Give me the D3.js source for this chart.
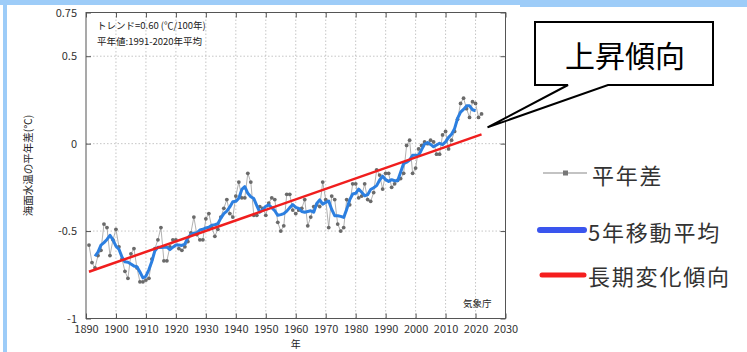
<!DOCTYPE html>
<html lang="ja">
<head>
<meta charset="utf-8">
<script src="https://cdn.jsdelivr.net/npm/d3@7"></script>
<style>
  html, body { margin: 0; padding: 0; background: #fff; }
  svg { display: block; font-family: "Noto Sans CJK JP", "Noto Sans", sans-serif; }
</style>
</head>
<body>
<svg id="chart" width="747" height="352"></svg>
<script>
// 海面水温（全球平均）の平年差 1891–2022（℃、平年値 1991–2020 年平均）
const years = d3.range(1891, 2023);
const anomalies = [
  -0.58, -0.68, -0.71, -0.64, -0.61, -0.46, -0.48, -0.64, -0.55, -0.49, // 1891-1900
  -0.59, -0.66, -0.73, -0.77, -0.63, -0.60, -0.71, -0.79, -0.79, -0.78, // 1901-1910
  -0.77, -0.66, -0.60, -0.55, -0.48, -0.67, -0.67, -0.59, -0.55, -0.55, // 1911-1920
  -0.60, -0.61, -0.59, -0.56, -0.51, -0.42, -0.52, -0.55, -0.55, -0.43, // 1921-1930
  -0.40, -0.48, -0.53, -0.49, -0.42, -0.37, -0.32, -0.40, -0.42, -0.30, // 1931-1940
  -0.22, -0.31, -0.31, -0.17, -0.22, -0.41, -0.41, -0.36, -0.37, -0.41, // 1941-1950
  -0.34, -0.31, -0.32, -0.45, -0.50, -0.47, -0.29, -0.29, -0.38, -0.40, // 1951-1960
  -0.38, -0.37, -0.32, -0.47, -0.42, -0.36, -0.35, -0.36, -0.22, -0.32, // 1961-1970
  -0.48, -0.30, -0.32, -0.46, -0.50, -0.48, -0.32, -0.35, -0.23, -0.23, // 1971-1980
  -0.31, -0.30, -0.23, -0.32, -0.33, -0.28, -0.15, -0.18, -0.26, -0.17, // 1981-1990
  -0.17, -0.25, -0.23, -0.21, -0.20, -0.17, -0.01,  0.02, -0.17, -0.14, // 1991-2000
  -0.03, -0.01,  0.01,  0.00,  0.02,  0.01, -0.06, -0.06,  0.05,  0.07, // 2001-2010
  -0.03,  0.02,  0.07,  0.14,  0.23,  0.26,  0.20,  0.15,  0.24,  0.23, // 2011-2020
   0.15,  0.17                                                          // 2021-2022
];
const trendPer100 = 0.60;           // ℃/100年
const xTicks = d3.range(1890, 2031, 10);
const yTicks = [-1, -0.5, 0, 0.5, 0.75];
const yTickLabels = ["-1", "-0.5", "0", "0.5", "0.75"];
const yGrid = [-0.5, 0, 0.5];
const legendLabels = ["平年差", "5年移動平均", "長期変化傾向"];

const svg = d3.select("#chart");
const L = 86, R = 505.5, T = 12.5, B = 318.5;
const x = d3.scaleLinear().domain([1890, 2030]).range([L, R]);
const y = d3.scaleLinear().domain([-1, 0.75]).range([B, T]);

// page frame
svg.append("rect").attr("x", 0).attr("y", 0).attr("width", 747).attr("height", 5).attr("fill", "#9dccf8");
svg.append("rect").attr("x", 520).attr("y", 0).attr("width", 227).attr("height", 7).attr("fill", "#9dccf8");
svg.append("rect").attr("x", 3).attr("y", 0).attr("width", 4).attr("height", 352).attr("fill", "#9dccf8");

// grid
const grid = svg.append("g").attr("stroke", "#b8b8b8").attr("stroke-width", 0.8).attr("stroke-dasharray", "1.5,2");
grid.selectAll("line.v").data(xTicks.filter(d => d > 1890 && d < 2030)).join("line")
  .attr("x1", d => x(d)).attr("x2", d => x(d)).attr("y1", T).attr("y2", B);
grid.selectAll("line.h").data(yGrid).join("line")
  .attr("x1", L).attr("x2", R).attr("y1", d => y(d)).attr("y2", d => y(d));

// axes
const tickFont = g => g.selectAll("text").attr("font-size", 11).attr("fill", "#333")
  .attr("font-family", "'Noto Sans CJK JP', sans-serif");
svg.append("g").attr("transform", `translate(0,${B})`)
  .call(d3.axisBottom(x).tickValues(xTicks).tickFormat(d3.format("d")).tickSize(-5).tickPadding(7))
  .call(tickFont)
  .call(g => g.select(".domain").remove());
svg.append("g").attr("transform", `translate(0,${T})`)
  .call(d3.axisTop(x).tickValues(xTicks).tickFormat("").tickSize(-5))
  .call(g => g.select(".domain").remove());
svg.append("g").attr("transform", `translate(${L},0)`)
  .call(d3.axisLeft(y).tickValues(yTicks).tickFormat((d, i) => yTickLabels[i]).tickSize(-5).tickPadding(9))
  .call(tickFont)
  .call(g => g.select(".domain").remove());
svg.append("g").attr("transform", `translate(${R},0)`)
  .call(d3.axisRight(y).tickValues(yTicks).tickFormat("").tickSize(-5))
  .call(g => g.select(".domain").remove());
svg.selectAll(".tick line").attr("stroke", "#555");
svg.append("rect").attr("x", L).attr("y", T).attr("width", R - L).attr("height", B - T)
  .attr("fill", "none").attr("stroke", "#555").attr("stroke-width", 1);

// series
const pts = years.map((yr, i) => ({ yr, v: anomalies[i] }));
const ma = pts.slice(2, -2).map((p, i) => ({ yr: p.yr, v: d3.mean(anomalies.slice(i, i + 5)) }));
const mYr = d3.mean(years), mV = d3.mean(anomalies), slope = trendPer100 / 100;
const trend = [years[0], years[years.length - 1]].map(yr => ({ yr, v: mV + slope * (yr - mYr) }));

const line = d3.line().x(d => x(d.yr)).y(d => y(d.v));
svg.append("path").datum(pts).attr("d", line).attr("fill", "none").attr("stroke", "#8f8f8f").attr("stroke-width", 0.7);
svg.append("g").selectAll("circle").data(pts).join("circle")
  .attr("cx", d => x(d.yr)).attr("cy", d => y(d.v)).attr("r", 1.9).attr("fill", "#6a6a6a");
svg.append("path").datum(ma).attr("d", line).attr("fill", "none").attr("stroke", "#2c7fe0")
  .attr("stroke-width", 3).attr("stroke-linejoin", "round");
svg.append("path").datum(trend).attr("d", line).attr("fill", "none").attr("stroke", "#f01e1e").attr("stroke-width", 2.5);

// in-plot notes
svg.append("text").attr("x", 97).attr("y", 29).attr("font-size", 9.5).attr("fill", "#222")
  .text(`トレンド=${trendPer100.toFixed(2)} (℃/100年)`);
svg.append("text").attr("x", 97).attr("y", 45).attr("font-size", 9.5).attr("fill", "#222")
  .text("平年値:1991-2020年平均");
svg.append("text").attr("x", 463).attr("y", 307).attr("font-size", 9.5).attr("fill", "#222").text("気象庁");

// axis titles
svg.append("text").attr("transform", `translate(32,${(T + B) / 2}) rotate(-90)`)
  .attr("text-anchor", "middle").attr("font-size", 10.5).attr("fill", "#222").text("海面水温の平年差(℃)");
svg.append("text").attr("x", (L + R) / 2).attr("y", 348).attr("text-anchor", "middle")
  .attr("font-size", 10).attr("fill", "#222").text("年");

// callout
const last = trend[1];
const tipX = x(last.yr) + 6, tipY = y(last.v) - 7;
svg.append("path")
  .attr("d", `M535,22 H713 V85 H608 L${tipX},${tipY} L568,85 H535 Z`)
  .attr("fill", "#fff").attr("stroke", "#000").attr("stroke-width", 2).attr("stroke-linejoin", "miter");
svg.append("text").attr("x", 625).attr("y", 54).attr("text-anchor", "middle").attr("dominant-baseline", "central")
  .attr("font-size", 30).attr("fill", "#000").text("上昇傾向");

// legend
const lg = svg.append("g").attr("font-size", 22).attr("fill", "#333").attr("letter-spacing", 1.8);
lg.append("line").attr("x1", 543).attr("x2", 587).attr("y1", 173).attr("y2", 173).attr("stroke", "#888").attr("stroke-width", 1.2);
lg.append("rect").attr("x", 563).attr("y", 170.5).attr("width", 5).attr("height", 5).attr("fill", "#777");
lg.append("line").attr("x1", 540).attr("x2", 584).attr("y1", 230).attr("y2", 230)
  .attr("stroke", "#3a55ee").attr("stroke-width", 6).attr("stroke-linecap", "round");
lg.append("line").attr("x1", 542).attr("x2", 584).attr("y1", 275).attr("y2", 275)
  .attr("stroke", "#f51e1e").attr("stroke-width", 5).attr("stroke-linecap", "round");
lg.selectAll("text").data(legendLabels).join("text")
  .attr("x", (d, i) => i === 0 ? 592 : 588).attr("y", (d, i) => [174, 231, 275][i])
  .attr("dominant-baseline", "central").text(d => d);
</script>
</body>
</html>
